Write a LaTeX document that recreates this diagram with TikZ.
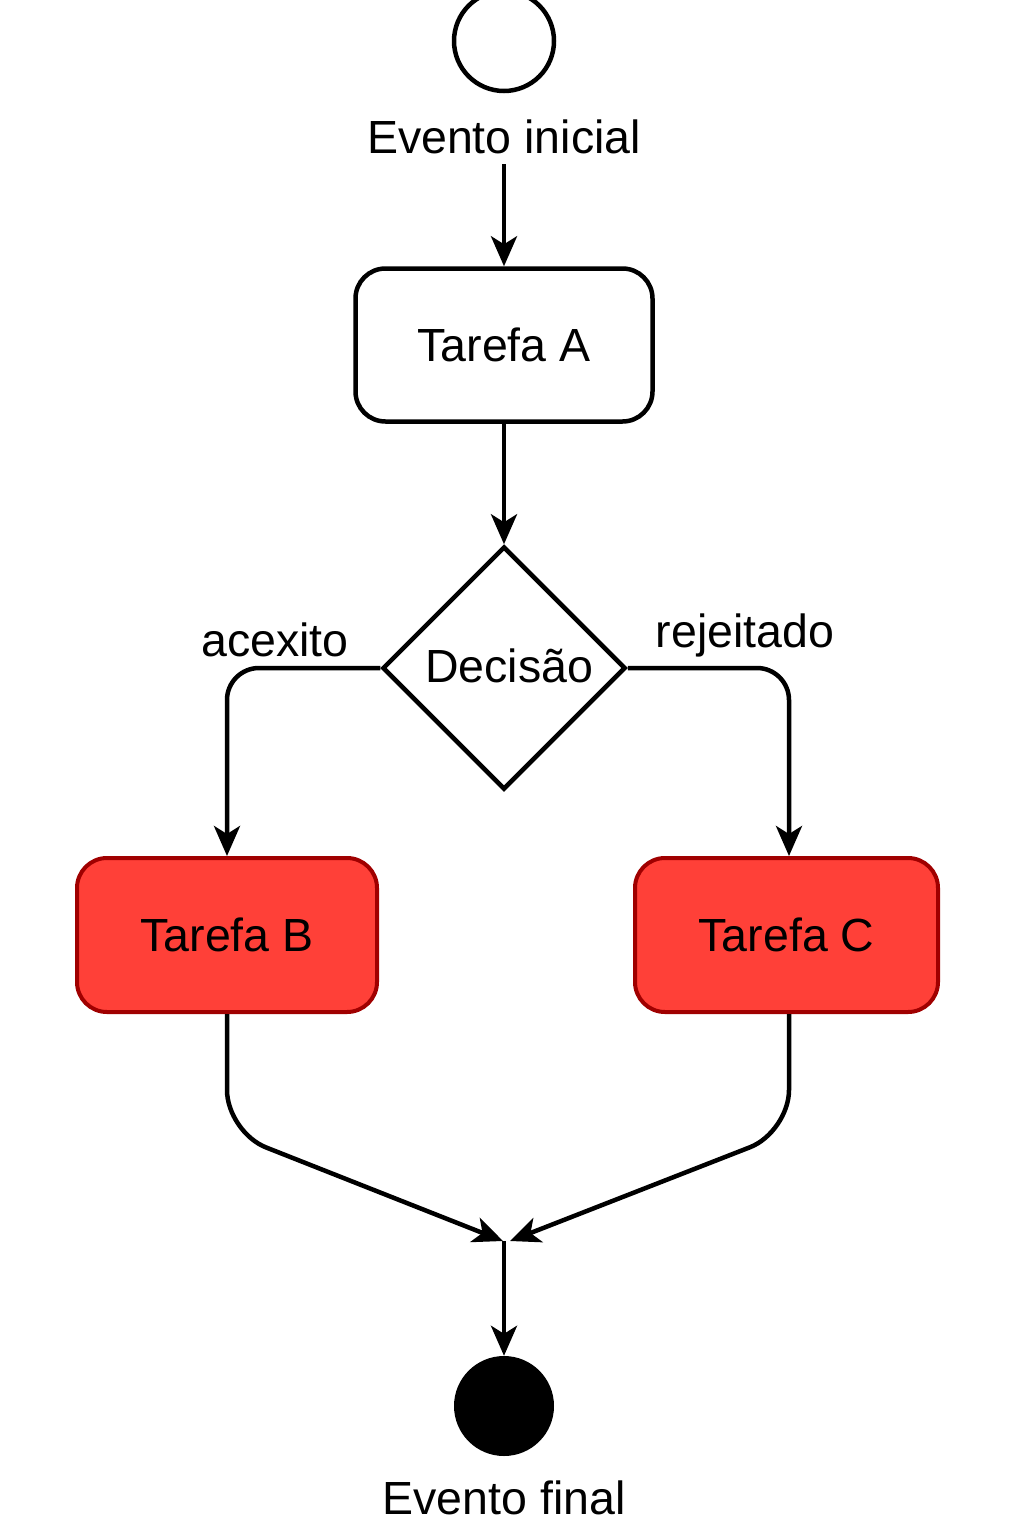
\documentclass[tikz,border=0pt]{standalone}
\usepackage{fontspec}
\setmainfont{Liberation Sans}
\usetikzlibrary{shapes.geometric,arrows.meta}
\definecolor{taskred}{HTML}{FF4038}
\definecolor{taskborder}{HTML}{A00000}
\begin{document}
\begin{tikzpicture}[x=1pt,y=-1pt,
  every node/.style={font=\fontsize{46.5}{56}\selectfont},
  conn/.style={line width=4.5pt,-{Stealth[length=30pt,width=26pt,inset=8pt]}},
  plainbox/.style={draw=black,line width=4.5pt,fill=white,rounded corners=30pt,minimum width=297pt,minimum height=153pt,inner sep=0pt},
  redbox/.style={draw=taskborder,line width=4pt,fill=taskred,rounded corners=30pt,minimum height=154pt,inner sep=0pt},
  decision/.style={draw=black,line width=4.5pt,diamond,minimum width=243pt,minimum height=243pt,inner sep=0pt},
  lbl/.style={inner sep=0pt}]
\useasboundingbox (0,0) rectangle (1024,1536);
\node[draw=black,line width=4.5pt,circle,minimum size=100pt,inner sep=0pt] (start) at (504,41) {};
\node[lbl] (evi) at (504,137) {Evento inicial};
\node[plainbox] (ta) at (504,345) {Tarefa A};
\node[decision] (dec) at (504,668) {};
\node[lbl] (dectxt) at (509,666) {Decisão};
\node[redbox,minimum width=300pt] (tb) at (227,935) {Tarefa B};
\node[redbox,minimum width=303pt] (tc) at (786.5,935) {Tarefa C};
\node[lbl] (acx) at (275,640) {acexito};
\node[lbl] (rej) at (745,635) {rejeitado};
\coordinate (ctop) at ([xshift=2.5pt]tc.north);
\coordinate (cbot) at ([xshift=2.5pt]tc.south);
\coordinate (ml) at (503,1241);
\coordinate (mr) at (510,1241);
\coordinate (m) at (504,1241);
\node[circle,fill=black,minimum size=100pt,inner sep=0pt] (end) at (504,1406) {};
\node[lbl] (evf) at (504,1498) {Evento final};
\draw[conn,shorten <=10pt] (evi.south) -- (ta.north);
\draw[conn] (ta.south) -- (dec.north);
\draw[conn,rounded corners=32pt] (dec.west) -| (tb.north);
\draw[conn,rounded corners=32pt] (dec.east) -| (ctop);
\draw[conn,rounded corners=42pt] (tb.south) -- (227,1132) -- (ml);
\draw[conn,rounded corners=42pt] (cbot) -- (789,1132) -- (mr);
\draw[conn] (m) -- (end.north);
\end{tikzpicture}
\end{document}
